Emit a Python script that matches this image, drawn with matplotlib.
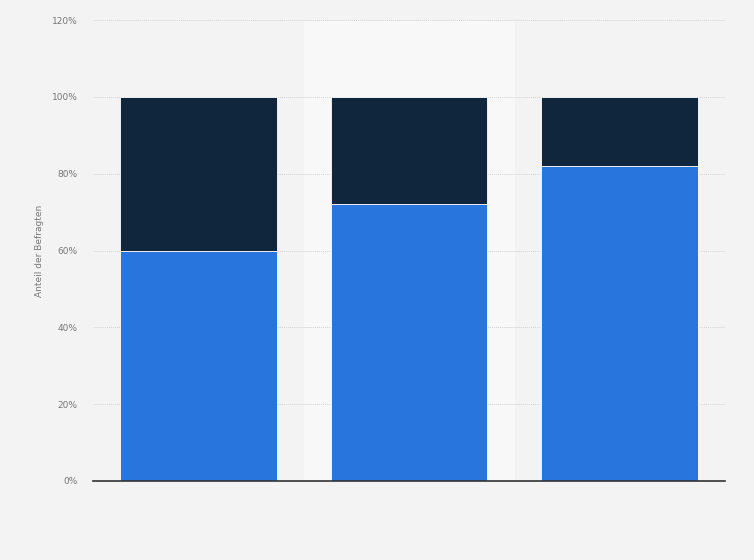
import matplotlib
matplotlib.use("Agg")
import matplotlib.pyplot as plt
from matplotlib.ticker import FuncFormatter

categories = ["", " ", "  "]
share_a = [60, 72, 82]
share_b = [40, 28, 18]
yticks = [0, 20, 40, 60, 80, 100, 120]

fig = plt.figure(figsize=(7.54, 5.6), dpi=100, facecolor="#f3f3f3")
ax = fig.add_axes([93/754, 1-481/560, (725-93)/754, (481-20)/560])
ax.set_facecolor("#f3f3f3")

x = list(range(len(categories)))
ax.axvspan(0.5, 1.5, color="#f8f8f8", zorder=0)
ax.bar(x, share_a, width=0.745, color="#2876dd", edgecolor="white", linewidth=0.6, zorder=3)
ax.bar(x, share_b, bottom=share_a, width=0.745, color="#0f263d", edgecolor="white", linewidth=0.6, zorder=3)

ax.set_xlim(-0.5, 2.5)
ax.set_ylim(0, 120)
ax.set_yticks(yticks)
ax.yaxis.set_major_formatter(FuncFormatter(lambda v, p: f"{int(v)}%"))
ax.set_xticks(x)
ax.set_xticklabels(categories)
ax.tick_params(axis="x", length=0)
ax.tick_params(axis="y", length=0, labelsize=6.5, labelcolor="#777777", pad=11)
ax.grid(axis="y", color="#d2d2d2", linestyle=(0, (1, 1)), linewidth=0.7, zorder=1)
for s in ["top", "right", "left"]:
    ax.spines[s].set_visible(False)
ax.spines["bottom"].set_color("#333333")
ax.spines["bottom"].set_linewidth(1.2)
ax.spines["bottom"].set_zorder(4)
ax.set_ylabel("Anteil der Befragten", fontsize=6.5, color="#777777", labelpad=5)
ax.yaxis.set_label_coords(-(93-44)/632, 0.5)

fig.savefig("out.png", dpi=100, facecolor=fig.get_facecolor())
